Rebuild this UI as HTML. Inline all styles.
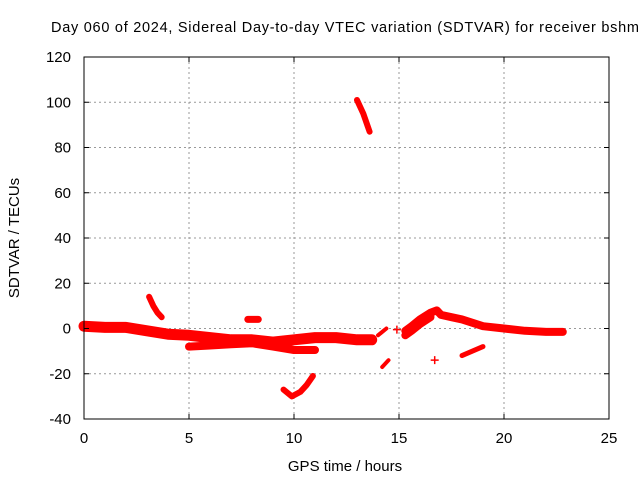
<!DOCTYPE html>
<html><head><meta charset="utf-8"><style>
body{margin:0;background:#fff}
svg{display:block;font-family:"Liberation Sans",sans-serif}
</style></head><body>
<svg id="chart" width="640" height="480">
<text x="345" y="32" font-size="14.5" text-anchor="middle" textLength="588">Day 060 of 2024, Sidereal Day-to-day VTEC variation (SDTVAR) for receiver bshm</text>
<text x="345" y="471" font-size="15" text-anchor="middle">GPS time / hours</text>
<text transform="translate(19,238) rotate(-90)" font-size="15" text-anchor="middle">SDTVAR / TECUs</text>
<g id="grid"></g><g id="marks"></g><g id="ticks"></g>
<rect x="84" y="57" width="525" height="362" fill="none" stroke="#000" stroke-width="1"/>
</svg>
<script>
const xTicks=[0,5,10,15,20,25];
const yTicks=[-40,-20,0,20,40,60,80,100,120];
// each segment: [hour, value] samples
const segMainA=[[0,1],[1,0.5],[2,0.5],[3,-1],[4,-2.5],[5,-3],[6,-4],[7,-5],[8,-5],[9,-6],[10,-5],[11,-4],[12,-4],[13,-5],[13.7,-5]];
const segMainB=[[5,-8],[6,-7.5],[7,-7],[8,-6.5],[9,-8],[10,-9.5],[11,-9.5]];
const segArc1=[[3.1,14],[3.3,10],[3.5,7],[3.7,5]];
const segBlob=[[7.8,4],[8.3,4]];
const segDip=[[9.5,-27],[9.9,-30],[10.3,-28],[10.6,-25],[10.9,-21]];
const segSteep=[[13,101],[13.3,95],[13.6,87]];
const segSmall1=[[14.2,-17],[14.5,-14]];
const segSmall2=[[14.0,-3],[14.4,0]];
const segHump=[[15.3,-1],[15.6,1],[16,4],[16.5,7],[16.8,8],[17,6],[17.5,5],[18,4],[19,1],[20,0],[21,-1],[22,-1.5],[22.8,-1.5]];
const segHumpLow=[[15.3,-3],[15.6,-1],[16,2],[16.5,5]];
const segLowArc=[[18,-12],[18.5,-10],[19,-8]];
const singles=[[16.7,-14],[14.9,-0.5]];
const segments=[segMainA,segMainB,segArc1,segBlob,segDip,segSteep,segSmall1,segSmall2,segHump,segHumpLow,segLowArc];
const widths=[11,8,6,7,6,6,4,4,8,8,5];
const X=t=>84+t*21, Y=v=>328.5-v*2.2625;
const NS="http://www.w3.org/2000/svg";
const g=document.getElementById('grid'),m=document.getElementById('marks'),tk=document.getElementById('ticks');
function mk(tag,a,p){const e=document.createElementNS(NS,tag);for(const k in a)e.setAttribute(k,a[k]);p.appendChild(e);return e;}
xTicks.forEach(t=>{
 if(t>0&&t<25){const l=mk('line',{x1:X(t),x2:X(t),y1:57,y2:419,stroke:'#999','stroke-dasharray':'2,3'},g);
 
 }
 mk('line',{x1:X(t),x2:X(t),y1:419,y2:414,stroke:'#000'},tk);mk('line',{x1:X(t),x2:X(t),y1:57,y2:62,stroke:'#000'},tk);
 const s=mk('text',{x:X(t),y:443,'font-size':15,'text-anchor':'middle'},tk);s.textContent=t;
 
 
});
yTicks.forEach(v=>{
 if(v>-40&&v<120){const l=mk('line',{x1:84,x2:609,y1:Y(v),y2:Y(v),stroke:'#999','stroke-dasharray':'2,3'},g);
 
 }
 mk('line',{x1:84,x2:89,y1:Y(v),y2:Y(v),stroke:'#000'},tk);mk('line',{x1:609,x2:604,y1:Y(v),y2:Y(v),stroke:'#000'},tk);
 const s=mk('text',{x:71,y:Y(v)+5,'font-size':15,'text-anchor':'end'},tk);s.textContent=v;
 
 
});
segments.forEach((seg,i)=>{
 const d=seg.map((p,j)=>(j?'L':'M')+X(p[0]).toFixed(1)+','+Y(p[1]).toFixed(1)).join('');
 const p=mk('path',{d:d,fill:'none',stroke:'#f00','stroke-width':widths[i],'stroke-linecap':'round','stroke-linejoin':'round'},m);
 
 
});
singles.forEach(p=>{
 const x=X(p[0]),y=Y(p[1]);
 const e=mk('path',{d:`M${x-4},${y}H${x+4}M${x},${y-4}V${y+4}`,stroke:'#f00','stroke-width':1.5},m);
 
 
});
</script>
</body></html>
